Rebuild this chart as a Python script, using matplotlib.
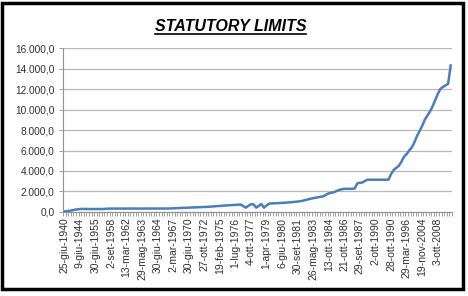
import numpy as np
import matplotlib
matplotlib.use("Agg")
import matplotlib.pyplot as plt
from matplotlib import font_manager
from matplotlib.lines import Line2D
from matplotlib.patches import Rectangle
from matplotlib.ticker import FuncFormatter, FixedLocator

# values, one per category
limits = [
    60, 80, 110, 170, 220, 260, 290, 300, 290, 290,
    290, 290, 290, 290, 290, 290, 310, 330, 330, 330,
    330, 330, 330, 330, 330, 330, 330, 330, 330, 330,
    330, 330, 330, 330, 330, 330, 330, 330, 330, 335,
    340, 350, 360, 360, 380, 390, 400, 400, 420, 430,
    440, 450, 460, 470, 490, 500, 520, 530, 560, 580,
    600, 610, 630, 650, 660, 680, 700, 720, 730, 580,
    420, 600, 760, 740, 420, 600, 780, 420, 650, 820,
    840, 850, 860, 870, 880, 900, 920, 940, 960, 990,
    1020, 1050, 1100, 1170, 1240, 1300, 1350, 1400, 1450, 1500,
    1540, 1700, 1820, 1880, 1930, 2050, 2150, 2220, 2260, 2260,
    2260, 2260, 2300, 2800, 2850, 2880, 3050, 3150, 3150, 3150,
    3150, 3150, 3150, 3150, 3150, 3150, 3700, 4100, 4300, 4500,
    4900, 5400, 5650, 6000, 6300, 6800, 7400, 7900, 8400, 9000,
    9400, 9800, 10300, 10900, 11500, 12000, 12200, 12350, 12500, 14300,
]

date_labels = [
    "25-giu-1940", "9-giu-1944", "30-giu-1955", "2-set-1958", "13-mar-1962",
    "29-mag-1963", "30-giu-1964", "2-mar-1967", "30-giu-1970", "27-ott-1972",
    "19-feb-1975", "1-lug-1976", "4-ott-1977", "1-apr-1979", "6-giu-1980",
    "30-set-1981", "26-mag-1983", "13-ott-1984", "21-ott-1986", "29-set-1987",
    "2-ott-1990", "28-ott-1990", "29-mar-1996", "19-nov-2004", "3-ott-2008",
]
label_step = 6
y_ticks = [0, 2000, 4000, 6000, 8000, 10000, 12000, 14000, 16000]

installed = {f.name for f in font_manager.fontManager.ttflist}
narrow = "Liberation Sans Narrow" if "Liberation Sans Narrow" in installed else "Liberation Sans"
plt.rcParams['font.family'] = ['Liberation Sans', 'DejaVu Sans']

fig = plt.figure(figsize=(4.68, 2.96), dpi=100)
ax = fig.add_axes([0.1346, 0.2838, 0.8312, 0.554])

x = np.arange(len(limits))
ax.plot(x, limits, color="#4a7ebb", lw=1.8, solid_joinstyle="round")

ax.set_xlim(-0.5, len(limits) - 0.5)
ax.set_ylim(0, 16000)

ax.set_yticks(y_ticks)
ax.yaxis.set_major_formatter(FuncFormatter(
    lambda v, p: f"{v:,.1f}".replace(",", "X").replace(".", ",").replace("X", ".")))
ax.grid(axis="y", color="#b8b8b8", lw=0.9)
ax.set_axisbelow(True)

ax.set_xticks(x[::label_step])
ax.set_xticklabels(date_labels, rotation=90)
ax.xaxis.set_minor_locator(FixedLocator(np.arange(-0.5, len(limits), 1)))
ax.tick_params(axis="x", which="major", length=0, pad=4, labelsize=7.5, labelcolor="#303030")
ax.tick_params(axis="x", which="minor", length=3, width=0.6, color="#909090")
ax.tick_params(axis="y", length=3, width=0.6, color="#909090", labelsize=7.3,
               labelcolor="#303030", pad=3)

for s in ["top", "right"]:
    ax.spines[s].set_visible(False)
for s in ["left", "bottom"]:
    ax.spines[s].set_color("#909090")
    ax.spines[s].set_linewidth(0.8)

t = fig.text(0.492, 0.912, "STATUTORY LIMITS", ha="center", va="center",
             fontsize=11.5, fontweight="bold", fontstyle="italic", family=narrow)
fig.canvas.draw()
bb = t.get_window_extent()
fig.add_artist(Line2D([bb.x0, bb.x1], [bb.y0 - 0.5, bb.y0 - 0.5],
                      transform=None, color="black", lw=1.2))

# outer frame
fig.add_artist(Rectangle((2 / 468, 7 / 296), 461 / 468, 286 / 296,
                         transform=fig.transFigure, fill=False,
                         edgecolor="black", lw=2.5))

fig.savefig("out.png", dpi=100, facecolor="white")
